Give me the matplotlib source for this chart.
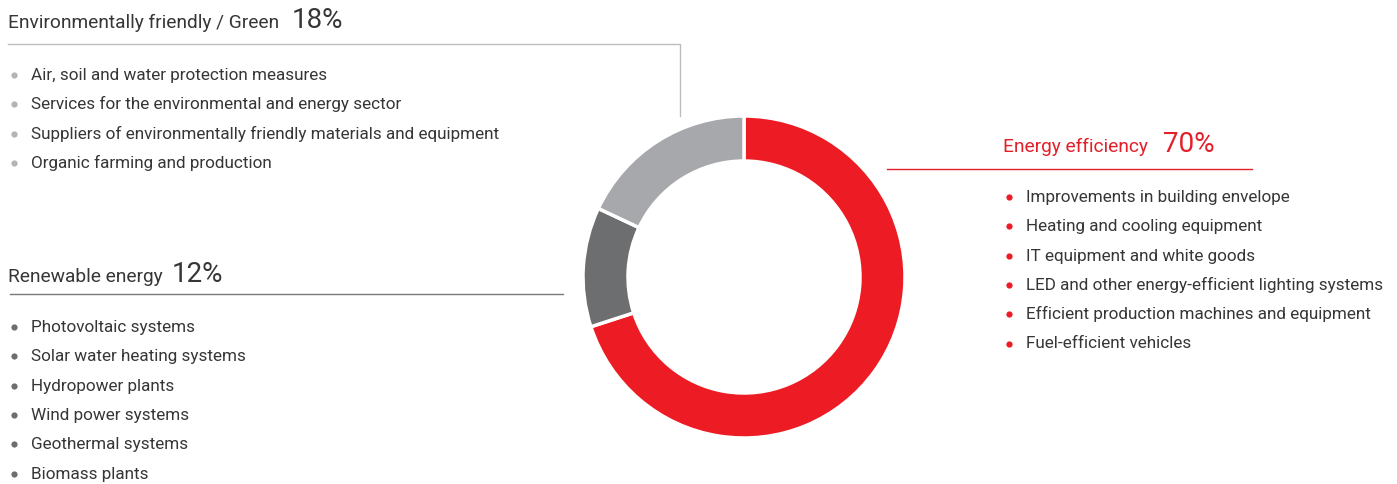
import matplotlib
matplotlib.use("Agg")
from matplotlib import pyplot as plt

# data
categories = ["Energy efficiency", "Renewable energy", "Environmentally friendly / Green"]
shares = [70, 12, 18]
pct_labels = ["70%", "12%", "18%"]
colors = ["#ed1c24", "#6d6e70", "#a7a8ab"]

green_items = [
    "Air, soil and water protection measures",
    "Services for the environmental and energy sector",
    "Suppliers of environmentally friendly materials and equipment",
    "Organic farming and production",
]
renewable_items = [
    "Photovoltaic systems",
    "Solar water heating systems",
    "Hydropower plants",
    "Wind power systems",
    "Geothermal systems",
    "Biomass plants",
]
efficiency_items = [
    "Improvements in building envelope",
    "Heating and cooling equipment",
    "IT equipment and white goods",
    "LED and other energy-efficient lighting systems",
    "Efficient production machines and equipment",
    "Fuel-efficient vehicles",
]

W, H = 1397, 484
plt.rcParams["font.family"] = ["Roboto", "DejaVu Sans"]
TEXT = "#363636"

fig = plt.figure(figsize=(W / 100, H / 100), dpi=100)
ax = fig.add_axes([0, 0, 1, 1])

# donut (y axis inverted, so counterclock=True looks clockwise)
ax.pie(shares, colors=colors, center=(744, 277), radius=161,
       startangle=-90, counterclock=True,
       wedgeprops=dict(width=45, edgecolor="white", linewidth=2.5))

ax.set_xlim(0, W)
ax.set_ylim(H, 0)
ax.set_aspect("equal")
ax.axis("off")


def block(x_title, y_title, title, pct, x_pct, title_color, items, x_item, y_item, bullet_color):
    ax.text(x_title, y_title, title, fontsize=13.8, color=title_color, va="baseline")
    ax.text(x_pct, y_title, pct, fontsize=20, color=title_color, va="baseline")
    for i, it in enumerate(items):
        y = y_item + i * 29.3
        ax.plot(x_item - 17, y - 5, "o", ms=4.5, color=bullet_color, mec="none")
        ax.text(x_item, y, it, fontsize=12.3, color=TEXT, va="baseline")


# green
block(8, 28, categories[2], pct_labels[2], 292, TEXT, green_items, 31, 80, "#b3b4b6")
ax.plot([8, 680, 680], [44, 44, 116], color="#bdbdbd", lw=1)

# renewable
block(8, 282, categories[1], pct_labels[1], 172, TEXT, renewable_items, 31, 332, "#6d6e70")
ax.plot([10, 563], [294, 294], color="#7a7a7a", lw=1)

# energy efficiency
block(1003, 152, categories[0], pct_labels[0], 1163, "#e3202a", efficiency_items, 1026, 202, "#ed1c24")
ax.plot([887, 1252], [169, 169], color="#e3202a", lw=1)

fig.savefig("out.png", dpi=100)
